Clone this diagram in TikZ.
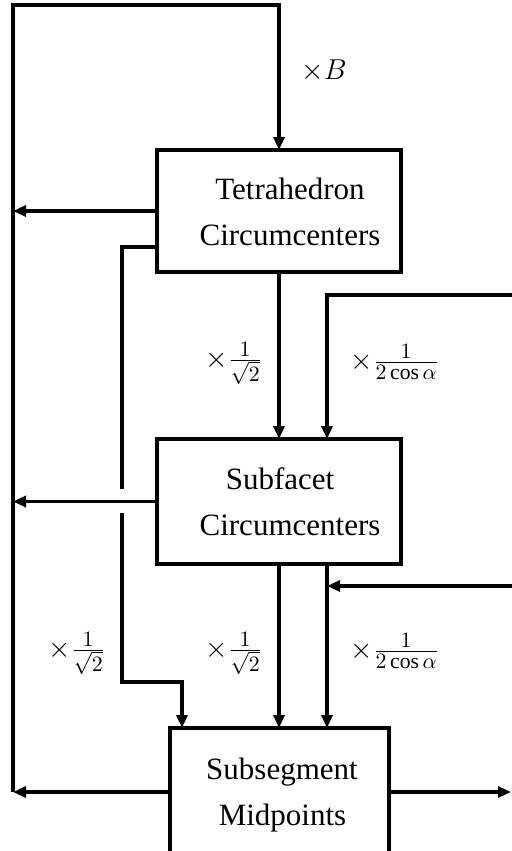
\documentclass[tikz,border=0pt]{standalone}
\usepackage{fontspec}
\setmainfont{Liberation Serif}
\usetikzlibrary{arrows.meta}
\begin{document}
\begin{tikzpicture}[x=0.5pt,y=-0.5pt,
  box/.style={draw, line width=2pt, rectangle, inner sep=0pt, outer sep=0pt},
  conn/.style={line width=1.6pt},
  arr/.style={conn, -{Triangle[length=6.5pt,width=5.5pt]}},
  txt/.style={font=\fontsize{15.5}{18}\selectfont, anchor=base, inner sep=0pt},
  lbl/.style={font=\fontsize{15.5}{18}\selectfont, inner sep=0pt}]
\clip (0,0) rectangle (512,851);
% boxes
\node[box, minimum width=122pt, minimum height=61pt] (T) at (279,211) {};
\node[box, minimum width=122pt, minimum height=62.5pt] (S) at (279,501.5) {};
\node[box, minimum width=109.5pt, minimum height=64pt] (M) at (279.5,792) {};
% box texts
\node[txt] (t1) at (290,199) {Tetrahedron};
\node[txt] (t2) at (290,245) {Circumcenters};
\node[txt] (s1) at (280,489) {Subfacet};
\node[txt] (s2) at (290,535) {Circumcenters};
\node[txt] (m1) at (282,779) {Subsegment};
\node[txt] (m2) at (282.5,825) {Midpoints};
% labels
\node[lbl, anchor=base] (lB) at (324,79) {$\times B$};
\node[lbl] (l1) at (234,363) {$\times\frac{1}{\sqrt{2}}$};
\node[lbl] (l2) at (395,362) {$\times\frac{1}{2\cos\alpha}$};
\node[lbl] (l3) at (77,653) {$\times\frac{1}{\sqrt{2}}$};
\node[lbl] (l4) at (234,653) {$\times\frac{1}{\sqrt{2}}$};
\node[lbl] (l5) at (395,651) {$\times\frac{1}{2\cos\alpha}$};
% coordinates
\coordinate (lb) at (13,792);
\coordinate (lt) at (13,5);
\coordinate (tt) at (279,5);
\coordinate (a1) at (122,247);
\coordinate (g1) at (122,489);
\coordinate (g2) at (122,513);
\coordinate (a2) at (122,682);
\coordinate (a3) at (182,682);
\coordinate (r1) at (512,295);
\coordinate (r1c) at (327,295);
\coordinate (r2) at (512,586);
\coordinate (out) at (511,792);
% connectors
\draw[arr] (lb) -- (lt) -- (tt) -- (T.north);
\draw[arr] (T.west) -- (T.west -| lt);
\draw[arr] (S.west) -- (S.west -| lt);
\draw[arr] (M.west) -- (lb);
\draw[arr] (M.east) -- (out);
\draw[conn] (T.west |- a1) -- (a1) -- (g1);
\draw[arr] (g2) -- (a2) -- (a3) -- (a3 |- M.north);
\draw[arr] (T.south) -- (S.north);
\draw[arr] (r1) -- (r1c) -- (r1c |- S.north);
\draw[arr] (S.south) -- (S.south |- M.north);
\draw[arr] (S.south -| r1c) -- (r1c |- M.north);
\draw[arr] (r2) -- (r2 -| r1c);
\end{tikzpicture}
\end{document}
